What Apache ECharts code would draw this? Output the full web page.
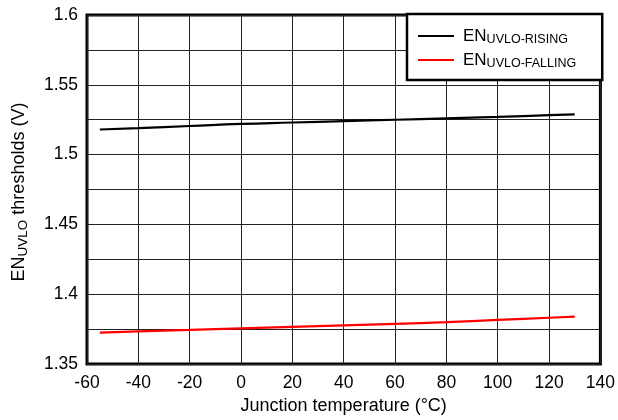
<!DOCTYPE html>
<html><head><meta charset="utf-8">
<script src="https://cdn.jsdelivr.net/npm/echarts@6/dist/echarts.min.js"></script>
<style>html,body{margin:0;padding:0;background:#fff}#c{width:618px;height:420px}</style>
</head><body><div id="c"></div>
<script>
const temps = [-55, -40, -20, 0, 20, 40, 60, 80, 100, 120, 130];
const rising = [1.518, 1.519, 1.5205, 1.522, 1.523, 1.524, 1.525, 1.526, 1.527, 1.5283, 1.5288];
const falling = [1.3726, 1.3735, 1.3745, 1.3756, 1.3767, 1.3778, 1.3788, 1.3800, 1.3816, 1.3832, 1.3840];
const xTicks = [-60, -40, -20, 0, 20, 40, 60, 80, 100, 120, 140];
const yLabels = ['1.35', '1.4', '1.45', '1.5', '1.55', '1.6'];

const font = 'Liberation Sans, Arial, sans-serif';
const chart = echarts.init(document.getElementById('c'), null, {renderer: 'canvas'});
chart.setOption({
  animation: false,
  backgroundColor: '#fff',
  grid: {left: 87, right: 17, top: 15, bottom: 54, show: true, borderColor: '#000', borderWidth: 3, backgroundColor: 'transparent'},
  graphic: [{
    type: 'text', x: 19, y: 192, rotation: Math.PI / 2,
    style: {
      text: '{a|EN}{b|UVLO}{a| thresholds (V)}',
      align: 'center', verticalAlign: 'middle', fill: '#000',
      font: '18px ' + font,
      rich: {
        a: {fontSize: 18, fontFamily: font, fill: '#000', lineHeight: 22},
        b: {fontSize: 13.5, fontFamily: font, fill: '#000', padding: [8, 0, 0, 0], lineHeight: 22}
      }
    }
  }],
  legend: {
    orient: 'vertical', left: 407, top: 14, itemWidth: 36, itemHeight: 2, itemGap: 4,
    backgroundColor: '#fff', borderColor: '#000', borderWidth: 2.5, borderRadius: 0,
    padding: [12, 26, 10, 11],
    icon: 'rect',
    data: ['rising', 'falling'],
    formatter: function (n) { return n === 'rising' ? '{a|EN}{b|UVLO-RISING}' : '{a|EN}{b|UVLO-FALLING}'; },
    textStyle: {
      fontFamily: font, color: '#000', padding: [0, 0, 0, 4],
      rich: {
        a: {fontSize: 17, fontFamily: font, color: '#000', lineHeight: 18},
        b: {fontSize: 12.5, fontFamily: font, color: '#000', padding: [7, 0, 0, 0], lineHeight: 18}
      }
    }
  },
  xAxis: {
    type: 'value', min: xTicks[0], max: xTicks[xTicks.length - 1], interval: 20,
    name: 'Junction temperature (°C)', nameLocation: 'middle', nameGap: 32,
    nameTextStyle: {fontFamily: font, fontSize: 18, color: '#000'},
    axisLine: {show: false}, axisTick: {show: false},
    axisLabel: {fontFamily: font, fontSize: 17.5, color: '#000', margin: 10},
    splitLine: {show: true, lineStyle: {color: '#222', width: 1}}
  },
  yAxis: {
    type: 'value', min: 1.35, max: 1.6, interval: 0.025,
    axisLine: {show: false}, axisTick: {show: false},
    axisLabel: {
      fontFamily: font, fontSize: 17.5, color: '#000', margin: 9,
      formatter: function (v) {
        const k = Math.round(v * 1000);
        if (k % 50 !== 0) return '';
        const s = yLabels.find(l => Math.round(parseFloat(l) * 1000) === k);
        return s || '';
      }
    },
    splitLine: {show: true, lineStyle: {color: '#222', width: 1}}
  },
  series: [
    {name: 'rising', type: 'line', showSymbol: false, smooth: true, data: temps.map((t, i) => [t, rising[i]]), lineStyle: {color: '#000', width: 2.2}, itemStyle: {color: '#000'}},
    {name: 'falling', type: 'line', showSymbol: false, smooth: true, data: temps.map((t, i) => [t, falling[i]]), lineStyle: {color: '#ff0000', width: 2.2}, itemStyle: {color: '#ff0000'}}
  ]
});
</script></body></html>
